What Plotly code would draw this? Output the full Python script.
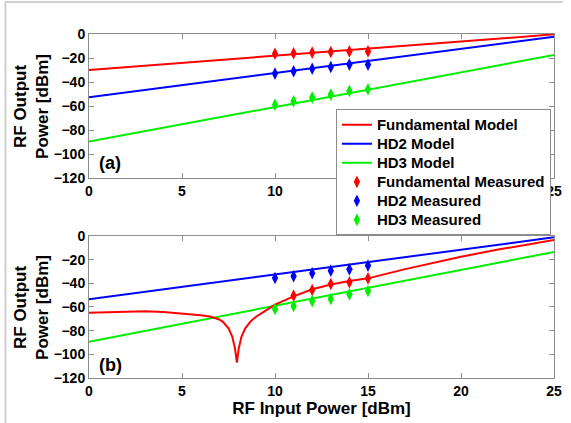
import plotly.graph_objects as go

# ---- data ----
# model lines (straight lines: endpoints at input power 0 and 25 dBm)
line_x = [0, 25]
top_fund_model = [-30.0, -0.3]
top_hd2_model = [-52.8, -2.2]
top_hd3_model = [-89.7, -17.5]

bot_hd2_model = [-53.5, -1.1]
bot_hd3_model = [-89.3, -13.5]
bot_fund_x = [0, 1, 2, 3, 4, 5, 6, 6.5, 7.0, 7.2, 7.5, 7.7, 7.85, 7.95,
              8.05, 8.2, 8.4, 8.7, 9.0, 9.5, 10, 11, 12, 13, 14, 15, 17, 20, 22, 25]
bot_fund_model = [-64.8, -64.2, -63.7, -63.5, -64.2, -65.4, -67.0, -68.0, -70.5, -72.5,
                  -78.0, -85.0, -95.0, -107.0, -95.0, -85.0, -78.0, -72.0, -68.0, -63.0,
                  -58.0, -51.0, -45.0, -41.0, -38.0, -35.8, -28.0, -17.5, -11.5, -3.4]

meas_x = [10, 11, 12, 13, 14, 15]
top_fund_meas = [-16.5, -16.0, -15.5, -15.0, -14.5, -14.5]
top_hd2_meas = [-33.0, -31.0, -29.0, -27.5, -25.5, -25.5]
top_hd3_meas = [-59.0, -56.0, -53.0, -50.5, -47.5, -46.0]

bot_fund_meas_x = [11, 12, 13, 14, 15]
bot_fund_meas = [-50.4, -45.6, -40.6, -39.1, -35.8]
bot_hd2_meas = [-35.5, -34.0, -31.5, -29.3, -28.2, -25.0]
bot_hd3_meas = [-61.7, -59.2, -55.0, -53.2, -49.3, -46.5]

names = ["Fundamental Model", "HD2 Model", "HD3 Model",
         "Fundamental Measured", "HD2 Measured", "HD3 Measured"]
RED, BLUE, GREEN = "#ff0000", "#0000ff", "#00ee00"

FONT = "Liberation Sans, Arial, sans-serif"

fig = go.Figure()

def legend_label(name):
    return '<span style="font-size:15px">' + name + '</span>'

def add_line(x, y, color, name, xa, ya, show):
    fig.add_trace(go.Scatter(x=x, y=y, mode="lines", line=dict(color=color, width=2),
                             name=legend_label(name), showlegend=show, xaxis=xa, yaxis=ya))

def add_meas(x, y, color, name, xa, ya, show):
    fig.add_trace(go.Scatter(x=x, y=y, mode="markers",
                             marker=dict(symbol="diamond-tall", size=9, color=color,
                                         line=dict(width=0)),
                             name=legend_label(name), showlegend=show, xaxis=xa, yaxis=ya))

# top panel (a)
add_line(line_x, top_fund_model, RED, names[0], "x", "y", True)
add_line(line_x, top_hd2_model, BLUE, names[1], "x", "y", True)
add_line(line_x, top_hd3_model, GREEN, names[2], "x", "y", True)
add_meas(meas_x, top_fund_meas, RED, names[3], "x", "y", True)
add_meas(meas_x, top_hd2_meas, BLUE, names[4], "x", "y", True)
add_meas(meas_x, top_hd3_meas, GREEN, names[5], "x", "y", True)

# bottom panel (b)
add_line(line_x, bot_hd2_model, BLUE, names[1], "x2", "y2", False)
add_line(line_x, bot_hd3_model, GREEN, names[2], "x2", "y2", False)
add_line(bot_fund_x, bot_fund_model, RED, names[0], "x2", "y2", False)
add_meas(bot_fund_meas_x, bot_fund_meas, RED, names[3], "x2", "y2", False)
add_meas(meas_x, bot_hd2_meas, BLUE, names[4], "x2", "y2", False)
add_meas(meas_x, bot_hd3_meas, GREEN, names[5], "x2", "y2", False)

axis_common = dict(showline=True, linecolor="#8c8c8c", linewidth=1, mirror="ticks",
                   ticks="inside", ticklen=5, tickcolor="#8c8c8c", showgrid=False,
                   zeroline=False,
                   tickfont=dict(family=FONT, size=14, color="black", weight="bold"))

fig.update_layout(
    width=571, height=423,
    margin=dict(l=89, r=9, t=34, b=45),
    paper_bgcolor="white", plot_bgcolor="white",
    xaxis=dict(domain=[0, 1], anchor="y", range=[0, 25], dtick=5, **axis_common),
    yaxis=dict(domain=[0.5814, 1], anchor="x", range=[-120, 0], dtick=20, **axis_common),
    xaxis2=dict(domain=[0, 1], anchor="y2", range=[0, 25], dtick=5, **axis_common,
                title=dict(text="RF Input Power [dBm]", standoff=0,
                           font=dict(family=FONT, size=17, color="black", weight="bold"))),
    yaxis2=dict(domain=[0, 0.4128], anchor="x2", range=[-120, 0], dtick=20, **axis_common),
    legend=dict(x=0.531, y=0.781, xanchor="left", yanchor="top",
                bgcolor="white", bordercolor="#8c8c8c", borderwidth=1,
                font=dict(family=FONT, size=12, color="black", weight="bold"),
                itemwidth=30, tracegroupgap=0),
    showlegend=True,
)

ytitle = "RF Output<br>Power [dBm]"
for yc in [(378 - 106) / 344, (378 - 307) / 344]:
    fig.add_annotation(text=ytitle, xref="paper", yref="paper", x=-0.125, y=yc,
                       textangle=-90, showarrow=False, xanchor="center", yanchor="middle",
                       font=dict(family=FONT, size=17, color="black", weight="bold"))

fig.add_annotation(text="(a)", xref="x", yref="y", x=0.45, y=-107.5, showarrow=False,
                   xanchor="left", yanchor="middle",
                   font=dict(family=FONT, size=18, color="black", weight="bold"))
fig.add_annotation(text="(b)", xref="x2", yref="y2", x=0.45, y=-109, showarrow=False,
                   xanchor="left", yanchor="middle",
                   font=dict(family=FONT, size=18, color="black", weight="bold"))

# light frame at the top and left edges of the image
fx0 = (4 - 89) / 473
fy_top = (378 - 2) / 344
fy_bot = (378 - 423) / 344
fx1 = (571 - 89) / 473
fig.add_shape(type="path", xref="paper", yref="paper", layer="above",
              path=f"M {fx0} {fy_bot} L {fx0} {fy_top} L {fx1} {fy_top}",
              line=dict(color="#cfcfcf", width=2))

fig.write_html("out.html", config={"displayModeBar": False},
               post_script="document.body.style.margin='0px';document.body.style.overflow='hidden';")
